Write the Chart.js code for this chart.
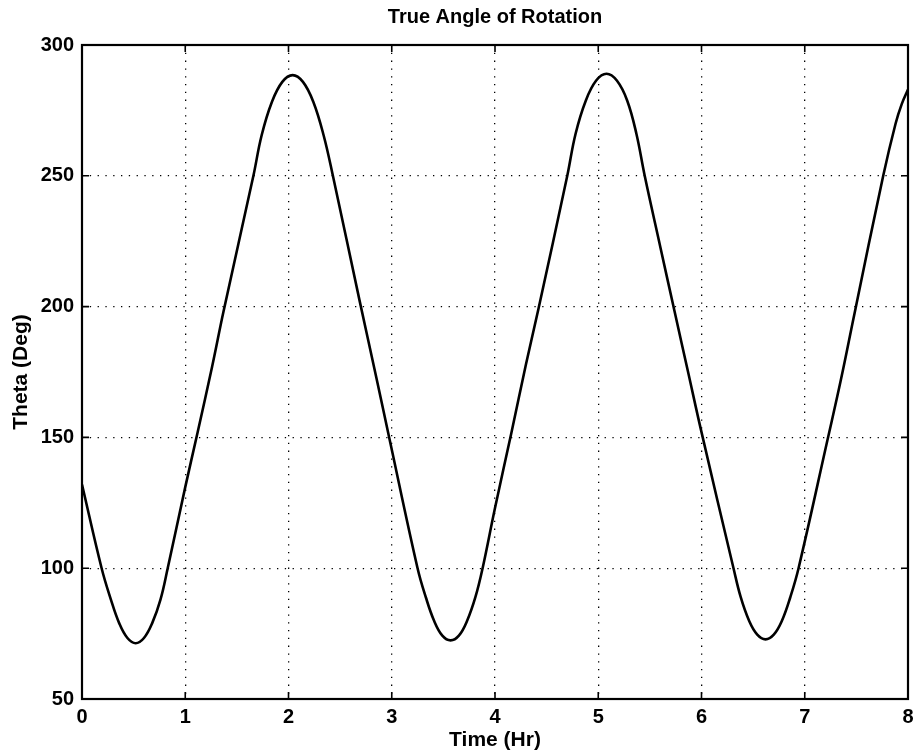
<!DOCTYPE html>
<html>
<head>
<meta charset="utf-8">
<title>True Angle of Rotation</title>
<script src="https://cdn.jsdelivr.net/npm/chart.js@4.4.1/dist/chart.umd.min.js"></script>
<style>
    html, body { margin: 0; padding: 0; background: #fff; }
    #wrap { width: 920px; height: 755px; position: relative; }
</style>
</head>
<body>
<div id="wrap"><canvas id="thetaChart"></canvas></div>
<script>
// values (time in hours, angle in degrees)
var timeHr = [0, 0.19, 0.28, 0.36, 0.44, 0.52, 0.60, 0.68, 0.76, 0.83,
    1.0, 1.12, 1.26, 1.37, 1.66, 1.74, 1.84, 1.94, 2.04, 2.14, 2.24, 2.34, 2.43,
    2.69, 2.85, 2.975, 3.25, 3.33, 3.41, 3.49, 3.57, 3.65, 3.73, 3.81, 3.88,
    4.0, 4.16, 4.30, 4.42, 4.70, 4.78, 4.88, 4.98, 5.08, 5.18, 5.28, 5.37, 5.45,
    5.60, 5.74, 5.87, 6.00, 6.31, 6.38, 6.46, 6.54, 6.62, 6.70, 6.78, 6.86, 6.94,
    7.22, 7.35, 7.48, 7.76, 7.88, 7.94, 8.0];
var thetaDeg = [132, 100, 88, 79, 73.3, 71.3, 73.3, 79, 88, 100,
    131, 152, 177, 198, 250, 265.5, 278.3, 285.9, 288.5, 285.9, 278.3, 265.5, 250,
    202, 173, 150, 100, 88.9, 79.9, 74.2, 72.4, 74.2, 79.9, 88.9, 100,
    123, 152, 178, 199, 250, 266, 278.8, 286.4, 289, 286.4, 278.8, 266, 250,
    223, 198, 175, 152, 100, 88.9, 80, 74.6, 72.8, 74.6, 80, 88.9, 100,
    149, 172, 197, 250, 270, 277.5, 283];

var xTicks = [0, 1, 2, 3, 4, 5, 6, 7, 8];
var yTicks = [50, 100, 150, 200, 250, 300];

var FONT = "'Liberation Sans', Arial, Helvetica, sans-serif";

window.addEventListener('load', function () {
    var points = [];
    for (var i = 0; i < timeHr.length; i++) {
        points.push({ x: timeHr[i], y: thetaDeg[i] });
    }

    // matlab style box with small inward ticks on all four sides
    var boxTicks = {
        id: 'boxTicks',
        afterDraw: function (chart) {
            var ctx = chart.ctx;
            var a = chart.chartArea;
            var xs = chart.scales.x;
            var ys = chart.scales.y;
            var len = 7;
            ctx.save();
            ctx.strokeStyle = '#000';
            ctx.lineWidth = 1.6;
            ctx.beginPath();
            xTicks.forEach(function (v) {
                var px = xs.getPixelForValue(v);
                ctx.moveTo(px, a.bottom); ctx.lineTo(px, a.bottom - len);
                ctx.moveTo(px, a.top); ctx.lineTo(px, a.top + len);
            });
            yTicks.forEach(function (v) {
                var py = ys.getPixelForValue(v);
                ctx.moveTo(a.left, py); ctx.lineTo(a.left + len, py);
                ctx.moveTo(a.right, py); ctx.lineTo(a.right - len, py);
            });
            ctx.stroke();
            ctx.lineWidth = 2.2;
            ctx.strokeRect(a.left, a.top, a.right - a.left, a.bottom - a.top);
            ctx.restore();
        }
    };

    new Chart('thetaChart', {
        type: 'line',
        data: {
            datasets: [{
                data: points,
                borderColor: '#000',
                borderWidth: 2.6,
                pointRadius: 0,
                fill: false,
                tension: 0.4
            }]
        },
        options: {
            responsive: true,
            maintainAspectRatio: false,
            animation: false,
            layout: { padding: { left: 0, right: 12, top: 0, bottom: 0 } },
            plugins: {
                legend: { display: false },
                tooltip: { enabled: false },
                title: {
                    display: true,
                    fullSize: false,
                    text: 'True Angle of Rotation',
                    color: '#000',
                    font: { family: FONT, size: 20, weight: 'bold' },
                    padding: { top: 5, bottom: 16 }
                }
            },
            scales: {
                x: {
                    type: 'linear',
                    min: xTicks[0],
                    max: xTicks[xTicks.length - 1],
                    afterFit: function (scale) { scale.height = 56; },
                    afterBuildTicks: function (scale) {
                        scale.ticks = xTicks.map(function (v) { return { value: v }; });
                    },
                    ticks: {
                        color: '#000',
                        padding: 6,
                        font: { family: FONT, size: 20, weight: 'bold' }
                    },
                    grid: { color: '#000', lineWidth: 1.3, drawTicks: false },
                    border: { display: false, dash: [1.3, 6.5] },
                    title: {
                        display: true,
                        text: 'Time (Hr)',
                        color: '#000',
                        font: { family: FONT, size: 21, weight: 'bold' },
                        padding: { top: 0, bottom: 2 }
                    }
                },
                y: {
                    min: yTicks[0],
                    max: yTicks[yTicks.length - 1],
                    afterFit: function (scale) { scale.width = 82; },
                    afterBuildTicks: function (scale) {
                        scale.ticks = yTicks.map(function (v) { return { value: v }; });
                    },
                    ticks: {
                        color: '#000',
                        padding: 8,
                        font: { family: FONT, size: 20, weight: 'bold' }
                    },
                    grid: { color: '#000', lineWidth: 1.3, drawTicks: false },
                    border: { display: false, dash: [1.3, 6.5] },
                    title: {
                        display: true,
                        text: 'Theta (Deg)',
                        color: '#000',
                        font: { family: FONT, size: 21, weight: 'bold' },
                        padding: { top: 9, bottom: 0 }
                    }
                }
            }
        },
        plugins: [boxTicks]
    });
});
</script>
</body>
</html>
